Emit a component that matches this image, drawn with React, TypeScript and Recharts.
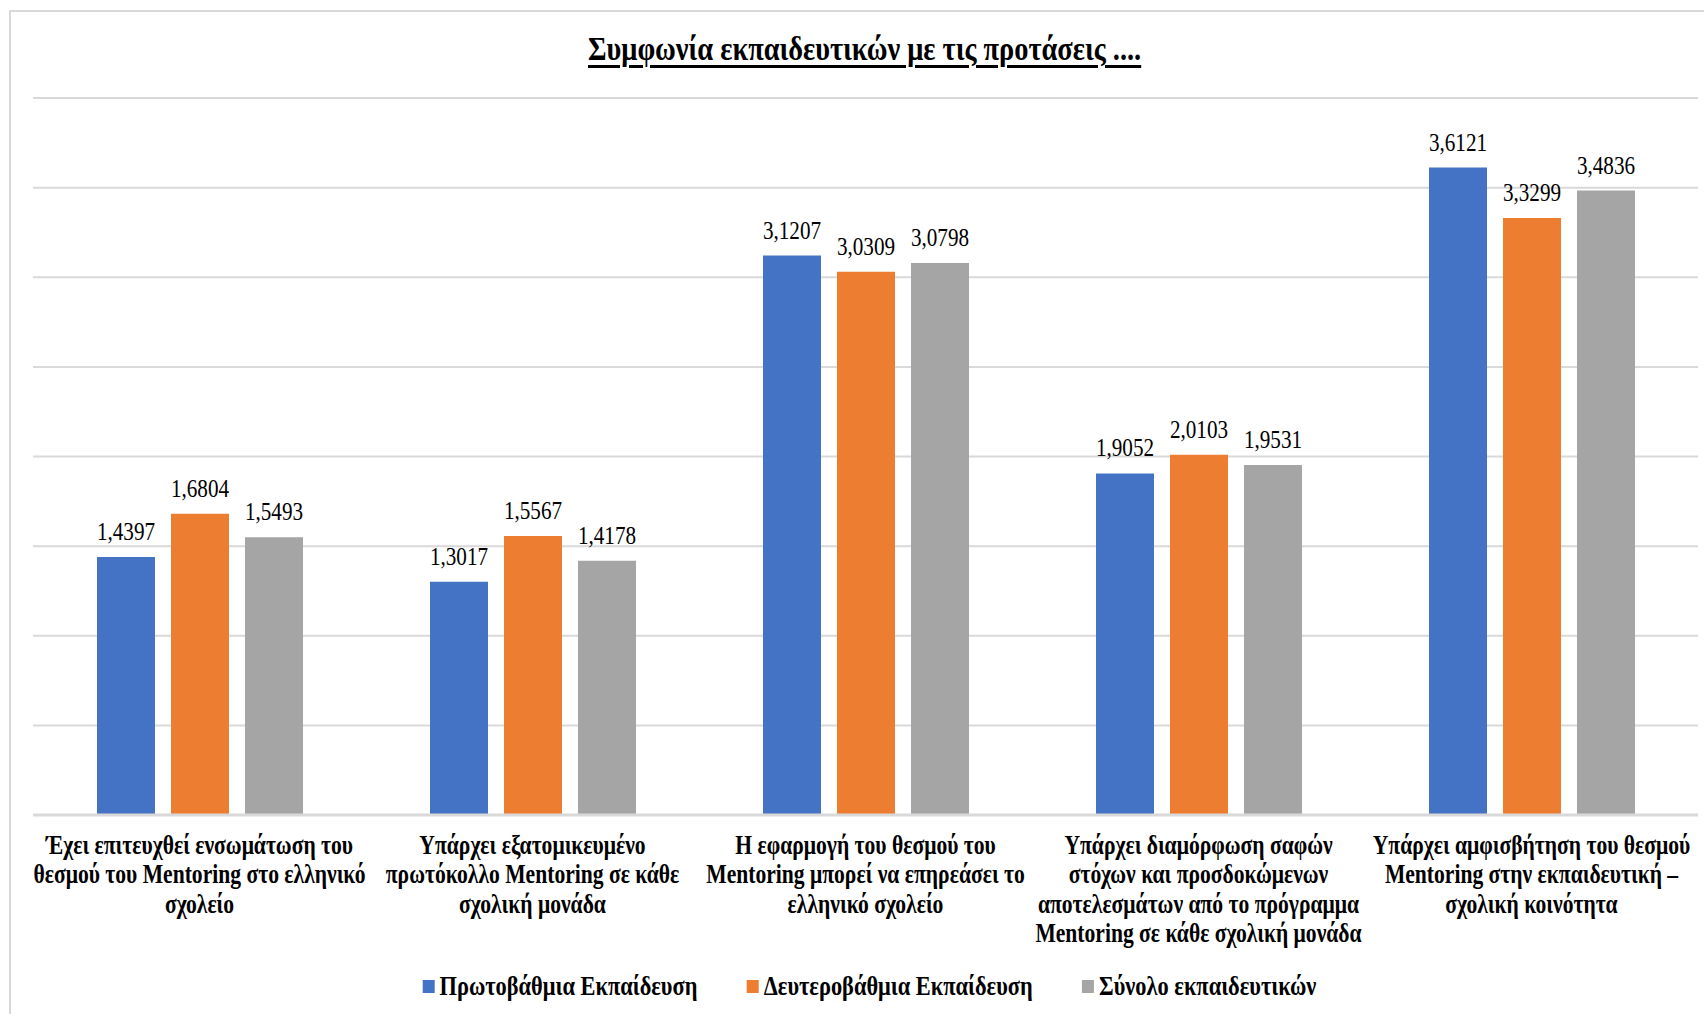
import React from 'react';
import { BarChart, Bar, XAxis, YAxis, CartesianGrid, Legend, LabelList } from 'recharts';

// Statements (one line per array entry, as wrapped under the axis)
const categoryLines: string[][] = [
  ['Έχει επιτευχθεί ενσωμάτωση του', 'θεσμού του Mentoring στο ελληνικό', 'σχολείο'],
  ['Υπάρχει εξατομικευμένο', 'πρωτόκολλο Mentoring σε κάθε', 'σχολική μονάδα'],
  ['Η εφαρμογή του θεσμού του', 'Mentoring μπορεί να επηρεάσει το', 'ελληνικό σχολείο'],
  ['Υπάρχει διαμόρφωση σαφών', 'στόχων και προσδοκώμενων', 'αποτελεσμάτων από το πρόγραμμα', 'Mentoring σε κάθε σχολική μονάδα'],
  ['Υπάρχει αμφισβήτηση του θεσμού', 'Mentoring στην εκπαιδευτική –', 'σχολική κοινότητα'],
];

const primaryValues = [1.4397, 1.3017, 3.1207, 1.9052, 3.6121];
const secondaryValues = [1.6804, 1.5567, 3.0309, 2.0103, 3.3299];
const totalValues = [1.5493, 1.4178, 3.0798, 1.9531, 3.4836];

const seriesKeys = ['primary', 'secondary', 'total'];
const seriesNames = ['Πρωτοβάθμια Εκπαίδευση', 'Δευτεροβάθμια Εκπαίδευση', 'Σύνολο εκπαιδευτικών'];
const seriesColors = ['#4472C4', '#ED7D31', '#A5A5A5'];

const yTicks = [0, 0.5, 1, 1.5, 2, 2.5, 3, 3.5, 4];

const titleText = 'Συμφωνία εκπαιδευτικών με τις προτάσεις ....';

const data = categoryLines.map((lines, i) => ({
  category: lines.join(' '),
  primary: primaryValues[i],
  secondary: secondaryValues[i],
  total: totalValues[i],
}));

const FONT = '"Liberation Serif", "Times New Roman", serif';
const GRID = '#d9d9d9';

// horizontal squeeze applied to each kind of text (narrow serif look)
const TITLE_SX = 0.86;
const TICK_SX = 0.8;
const LABEL_SX = 0.83;
const LEGEND_SX = 0.8;

const formatValue = (v: number) => v.toFixed(4).replace('.', ',');

const CategoryTick = (props: any) => {
  const { x, y, payload } = props;
  const lines = categoryLines[payload.index] || [];
  return (
    <g transform={`translate(${x} ${y})`}>
      <text transform={`scale(${TICK_SX} 1)`} textAnchor="middle" fontFamily={FONT} fontWeight="bold" fontSize={27} fill="#000">
        {lines.map((line, k) => (
          <tspan key={k} x={0} dy={k === 0 ? 39 : 29.5}>{line}</tspan>
        ))}
      </text>
    </g>
  );
};

const ValueLabel = (props: any) => {
  const { x, y, width, value } = props;
  const cx = Number(x) + Number(width) / 2;
  const by = Number(y) - 17;
  return (
    <text transform={`translate(${cx} ${by}) scale(${LABEL_SX} 1)`} x={0} y={0} textAnchor="middle" fontFamily={FONT} fontSize={25.5} fill="#000">
      {formatValue(Number(value))}
    </text>
  );
};

const LegendContent = () => (
  <div style={{ display: 'flex', justifyContent: 'center', paddingLeft: 36 }}>
    <div style={{ display: 'flex', alignItems: 'center', transform: `scaleX(${LEGEND_SX})`, transformOrigin: 'center', fontFamily: FONT, fontWeight: 'bold', fontSize: 28, whiteSpace: 'nowrap', color: '#000' }}>
      {seriesNames.map((name, i) => (
        <div key={name} style={{ display: 'flex', alignItems: 'center', marginLeft: i === 0 ? 0 : 62 }}>
          <span style={{ display: 'inline-block', width: 15, height: 13, background: seriesColors[i], marginRight: 6 }} />
          <span>{name}</span>
        </div>
      ))}
    </div>
  </div>
);

export default function App() {
  return (
    <div style={{ position: 'absolute', left: 0, top: 0, width: 1704, height: 1014, overflow: 'hidden', background: '#fff' }}>
      <div style={{ position: 'absolute', left: 9, top: 10, width: 1800, height: 1200, border: `2px solid ${GRID}`, boxSizing: 'border-box' }} />
      <div style={{ position: 'absolute', left: 0, top: 31, width: 1730, textAlign: 'center' }}>
        <span style={{ display: 'inline-block', transform: `scaleX(${TITLE_SX})`, fontFamily: FONT, fontWeight: 'bold', fontSize: 33, lineHeight: '36px', textDecoration: 'underline', textDecorationThickness: 3, textUnderlineOffset: 5, color: '#000', whiteSpace: 'nowrap' }}>
          {titleText}
        </span>
      </div>
      <div style={{ position: 'absolute', left: 0, top: 0 }}>
        <BarChart width={1704} height={1014} data={data} margin={{ top: 98, right: 6, left: 33, bottom: 0 }} barGap={16} barCategoryGap={64}>
          <CartesianGrid horizontal vertical={false} stroke={GRID} strokeWidth={2} />
          <YAxis hide domain={[0, 4]} ticks={yTicks} />
          <XAxis dataKey="category" height={199} interval={0} tickLine={false} tickSize={0} tickMargin={0} axisLine={{ stroke: GRID, strokeWidth: 3 }} tick={<CategoryTick />} />
          <Legend verticalAlign="middle" align="center" layout="horizontal" wrapperStyle={{ top: 970, left: 0, width: 1704 }} content={<LegendContent />} />
          {seriesKeys.map((key, i) => (
            <Bar key={key} dataKey={key} name={seriesNames[i]} fill={seriesColors[i]} isAnimationActive={false}>
              <LabelList dataKey={key} content={<ValueLabel />} />
            </Bar>
          ))}
        </BarChart>
      </div>
    </div>
  );
}
